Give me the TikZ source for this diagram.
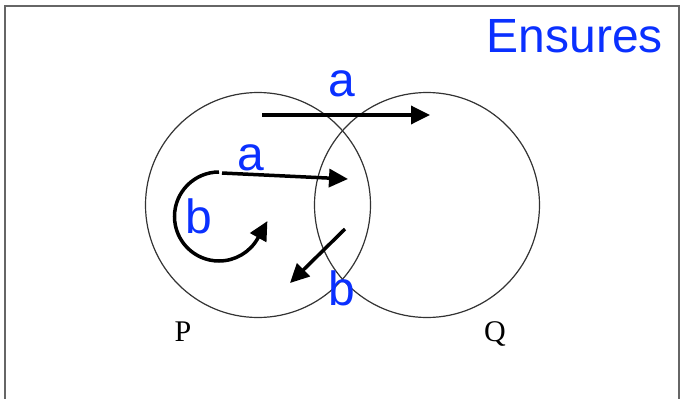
\documentclass[tikz,border=0pt]{standalone}
\usepackage{fontspec}
\setmainfont{Liberation Serif}
\newfontfamily\arialf{Liberation Sans}
\usetikzlibrary{arrows.meta}
\definecolor{lblue}{RGB}{10,48,255}
\begin{document}
\begin{tikzpicture}[x=1pt,y=-1pt,
  lbl/.style={font=\arialf\fontsize{48}{48}\selectfont, text=lblue, inner sep=0pt, anchor=base},
  setname/.style={font=\fontsize{30}{30}\selectfont, inner sep=0pt, anchor=base},
  setcirc/.style={circle, draw=black!80, line width=1.2pt, minimum size=225pt, inner sep=0pt},
  flow/.style={line width=3.5pt, -{Triangle[length=19pt,width=18pt]}},
  frameline/.style={line width=2pt, draw=black!60}]
\useasboundingbox (0,0) rectangle (681,399);
\coordinate (fBL) at (5,402);
\coordinate (fTL) at (5,6);
\coordinate (fTR) at (679,6);
\coordinate (fBR) at (679,402);
\draw[frameline] (fBL) -- (fTL) -- (fTR) -- (fBR);

\node[setcirc] (P) at (258,205) {};
\node[setcirc] (Q) at (427,205) {};

\node[setname] (Plbl) at (183,341) {P};
\node[setname] (Qlbl) at (495,341) {Q};

\node[lbl, anchor=base east] (ens) at (663,52) {Ensures};

% top arrow a
\coordinate (a1s) at (262,115);
\coordinate (a1e) at (430,115);
\draw[flow] (a1s) -- (a1e);
\node[lbl] (a1) at (342,96) {a};

% middle arrow a
\coordinate (a2s) at (222,173);
\coordinate (a2e) at (348,179);
\draw[flow] (a2s) -- (a2e);
\node[lbl] (a2) at (251,170) {a};

% loop b
\coordinate (bls) at (219,172);
\draw[flow] (bls) arc[start angle=270, end angle=29, radius=44.5] -- ++(9.5,-17);
\node[lbl] (b1) at (199,233) {b};

% diagonal b
\coordinate (b2s) at (345,229);
\coordinate (b2e) at (290,283);
\draw[flow] (b2s) -- (b2e);
\node[lbl] (b2) at (342,305) {b};
\end{tikzpicture}
\end{document}
